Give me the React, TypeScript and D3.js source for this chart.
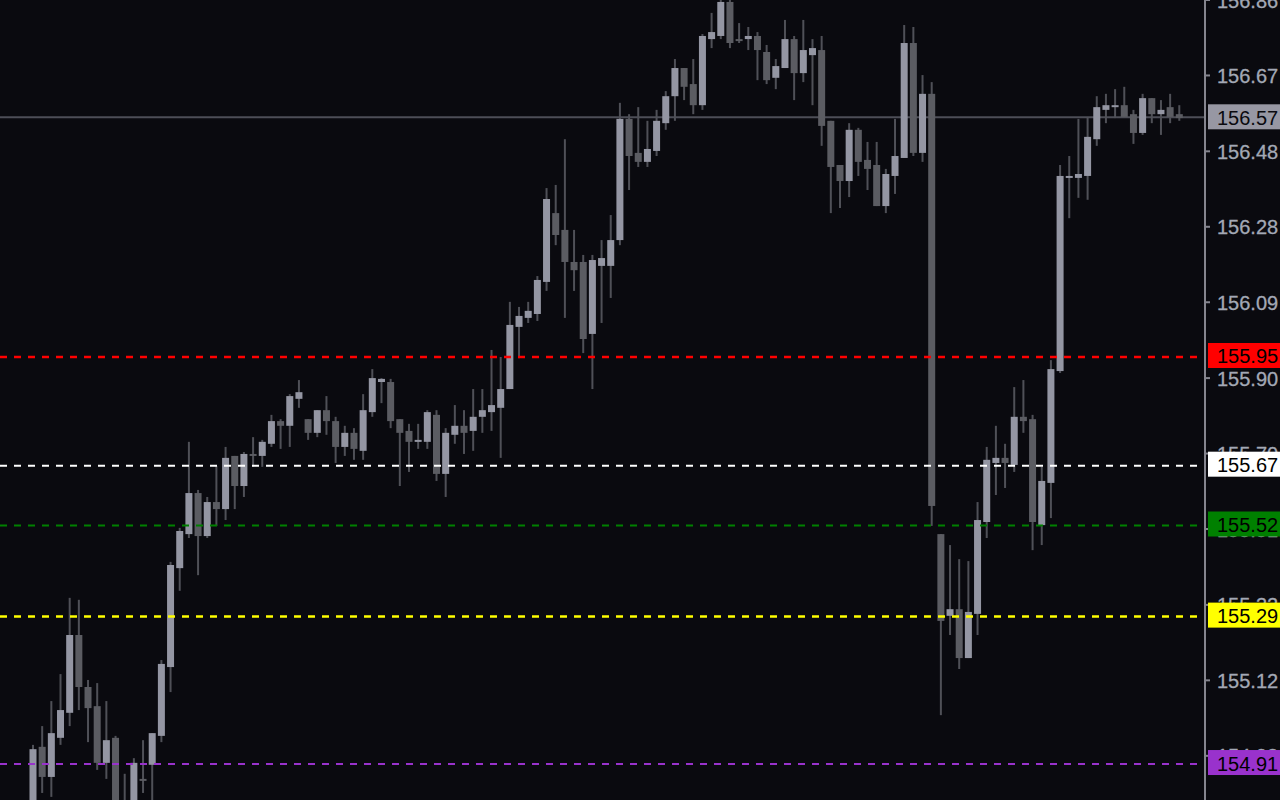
import React from "react";
import * as d3 from "d3";

// ---- Data (USDJPY-like M-bars) ----
const opens = [
  154.780, 154.954, 154.877, 154.977, 155.041, 155.240, 155.107, 155.058, 154.913, 154.977,
  154.787, 154.780, 154.872, 154.908, 154.982, 155.158, 155.411, 155.498, 155.603, 155.493,
  155.580, 155.562, 155.698, 155.621, 155.703, 155.698, 155.729, 155.787, 155.775, 155.844,
  155.792, 155.757, 155.815, 155.787, 155.721, 155.757, 155.711, 155.810, 155.887, 155.887,
  155.792, 155.762, 155.734, 155.734, 155.803, 155.652, 155.752, 155.775, 155.762, 155.798,
  155.810, 155.821, 155.869, 156.028, 156.051, 156.061, 156.143, 156.319, 156.276, 156.194,
  156.194, 156.010, 156.184, 156.184, 156.250, 156.560, 156.473, 156.450, 156.478, 156.549,
  156.618, 156.690, 156.649, 156.595, 156.764, 156.772, 156.859, 156.764, 156.764, 156.772,
  156.731, 156.665, 156.690, 156.764, 156.677, 156.723, 156.736, 156.555, 156.442, 156.401,
  156.532, 156.455, 156.442, 156.337, 156.414, 156.460, 156.754, 156.473, 156.624, 155.498,
  155.289, 155.306, 155.181, 155.294, 155.529, 155.680, 155.693, 155.675, 155.798, 155.792,
  155.521, 155.629, 155.915, 156.409, 156.409, 156.414, 156.508, 156.583, 156.590, 156.595,
  156.572, 156.524, 156.613, 156.572, 156.590, 156.572,
];
const highs = [
  154.959, 155.007, 155.071, 155.140, 155.335, 155.330, 155.125, 155.117, 155.071, 154.982,
  154.885, 154.925, 154.971, 154.989, 155.176, 155.427, 155.514, 155.734, 155.611, 155.593,
  155.672, 155.721, 155.698, 155.708, 155.746, 155.739, 155.803, 155.792, 155.856, 155.892,
  155.792, 155.815, 155.851, 155.798, 155.775, 155.769, 155.856, 155.920, 155.897, 155.895,
  155.792, 155.780, 155.780, 155.815, 155.815, 155.769, 155.828, 155.815, 155.869, 155.869,
  155.969, 155.951, 156.092, 156.079, 156.092, 156.158, 156.383, 156.391, 156.508, 156.276,
  156.212, 156.212, 156.250, 156.314, 156.601, 156.572, 156.590, 156.555, 156.583, 156.631,
  156.713, 156.690, 156.713, 156.777, 156.831, 156.877, 156.877, 156.805, 156.795, 156.782,
  156.749, 156.713, 156.813, 156.772, 156.813, 156.764, 156.772, 156.555, 156.442, 156.549,
  156.537, 156.501, 156.501, 156.432, 156.560, 156.800, 156.795, 156.672, 156.654, 155.498,
  155.470, 155.434, 155.429, 155.580, 155.721, 155.775, 155.729, 155.874, 155.892, 155.803,
  155.670, 155.943, 156.442, 156.465, 156.560, 156.565, 156.618, 156.624, 156.636, 156.642,
  156.583, 156.624, 156.613, 156.608, 156.624, 156.595,
];
const lows = [
  154.741, 154.836, 154.826, 154.959, 155.007, 155.048, 154.966, 154.895, 154.872, 154.741,
  154.729, 154.754, 154.836, 154.792, 154.966, 155.094, 155.353, 155.488, 155.393, 155.488,
  155.519, 155.534, 155.562, 155.593, 155.670, 155.670, 155.721, 155.716, 155.721, 155.821,
  155.739, 155.746, 155.752, 155.680, 155.698, 155.688, 155.688, 155.798, 155.833, 155.769,
  155.621, 155.657, 155.716, 155.716, 155.634, 155.593, 155.729, 155.703, 155.711, 155.757,
  155.762, 155.693, 155.869, 155.948, 156.038, 156.043, 156.120, 156.237, 156.051, 156.120,
  155.961, 155.869, 156.038, 156.102, 156.237, 156.378, 156.437, 156.437, 156.465, 156.532,
  156.555, 156.608, 156.572, 156.583, 156.741, 156.764, 156.741, 156.754, 156.736, 156.659,
  156.649, 156.636, 156.690, 156.608, 156.654, 156.595, 156.491, 156.319, 156.332, 156.360,
  156.414, 156.378, 156.337, 156.319, 156.368, 156.460, 156.465, 156.450, 155.519, 155.035,
  155.240, 155.153, 155.181, 155.240, 155.488, 155.598, 155.616, 155.657, 155.757, 155.457,
  155.470, 155.539, 155.910, 156.306, 156.358, 156.353, 156.491, 156.549, 156.562, 156.565,
  156.496, 156.519, 156.549, 156.519, 156.549, 156.555,
];
const closes = [
  154.948, 154.877, 154.989, 155.048, 155.240, 155.107, 155.053, 154.913, 154.971, 154.780,
  154.762, 154.913, 154.870, 154.989, 155.166, 155.419, 155.506, 155.603, 155.493, 155.580,
  155.562, 155.693, 155.621, 155.703, 155.698, 155.734, 155.787, 155.775, 155.851, 155.861,
  155.757, 155.815, 155.787, 155.721, 155.757, 155.716, 155.815, 155.897, 155.895, 155.787,
  155.757, 155.734, 155.739, 155.810, 155.652, 155.757, 155.775, 155.757, 155.798, 155.815,
  155.828, 155.869, 156.033, 156.056, 156.069, 156.148, 156.355, 156.263, 156.194, 156.173,
  155.997, 156.199, 156.204, 156.250, 156.560, 156.465, 156.450, 156.483, 156.555, 156.618,
  156.690, 156.642, 156.595, 156.772, 156.782, 156.859, 156.754, 156.759, 156.772, 156.736,
  156.659, 156.695, 156.764, 156.677, 156.736, 156.741, 156.542, 156.437, 156.401, 156.532,
  156.450, 156.432, 156.337, 156.419, 156.465, 156.754, 156.473, 156.624, 155.570, 155.276,
  155.306, 155.181, 155.299, 155.534, 155.688, 155.693, 155.680, 155.798, 155.787, 155.529,
  155.634, 155.920, 156.414, 156.414, 156.419, 156.514, 156.590, 156.595, 156.595, 156.565,
  156.524, 156.613, 156.572, 156.583, 156.565, 156.562,
];

// right price axis
const tickValues = [156.864, 156.671, 156.477, 156.284, 156.091, 155.897, 155.704, 155.511, 155.317, 155.124, 154.931];
const tickLabels = ["156.86", "156.67", "156.48", "156.28", "156.09", "155.90", "155.70", "155.51", "155.32", "155.12", "154.93"];

// horizontal levels
const levelValues = [155.951, 155.673, 155.520, 155.287, 154.910];
const levelLabels = ["155.95", "155.67", "155.52", "155.29", "154.91"];
const levelColors = ["#ff0000", "#ffffff", "#008000", "#ffff00", "#9932cc"];
const levelWidths = [2.5, 2, 2, 2.5, 2];

// current bid line
const bidValue = 156.564;
const bidLabel = "156.57";

const W = 1280;
const H = 800;
const AXIS_X = 1205;
const BG = "#0a0a0f";
const BULL = "#9496a3";
const BEAR = "#5b5c62";
const WICK = "#4f5057";
const FONT = "'Liberation Sans', Arial, sans-serif";

export default function App() {
  const n = opens.length;
  const x = d3.scaleLinear().domain([0, n - 1]).range([33, 1179.3]);
  const y = d3.scaleLinear().domain([154.818, 156.864]).range([H, 0]);
  const bodyW = 7;

  const candles = d3.range(n).map((i) => {
    const o = opens[i], c = closes[i], h = highs[i], l = lows[i];
    const cx = x(i);
    const top = y(Math.max(o, c));
    const bot = y(Math.min(o, c));
    const bull = c >= o;
    return (
      <g key={i}>
        <rect x={cx - 1} y={y(h)} width={2} height={Math.max(1, y(l) - y(h))} fill={WICK} />
        <rect x={cx - bodyW / 2} y={top} width={bodyW} height={Math.max(2, bot - top)} fill={bull ? BULL : BEAR} />
      </g>
    );
  });

  return (
    <svg
      width={W}
      height={H}
      style={{ position: "absolute", left: 0, top: 0, display: "block", background: BG }}
    >
      <defs>
        <clipPath id="plot">
          <rect x={0} y={0} width={AXIS_X - 1} height={H} />
        </clipPath>
      </defs>
      <rect x={0} y={0} width={W} height={H} fill={BG} />

      <g clipPath="url(#plot)">
        {/* bid line */}
        <line x1={0} x2={AXIS_X} y1={y(bidValue)} y2={y(bidValue)} stroke="#4d4e57" strokeWidth={2} />
        {candles}
        {levelValues.map((v, k) => (
          <line
            key={k}
            x1={0}
            x2={AXIS_X}
            y1={y(v)}
            y2={y(v)}
            stroke={levelColors[k]}
            strokeWidth={levelWidths[k]}
            strokeDasharray="7 7"
          />
        ))}
      </g>

      {/* axis */}
      <rect x={AXIS_X - 1} y={0} width={2} height={H} fill="#85858e" />
      {tickValues.map((v, k) => (
        <g key={k}>
          <rect x={AXIS_X + 1} y={y(v) - 1} width={4} height={2} fill="#85858e" />
          <text
            x={1217}
            y={y(v) + 7.5}
            fill="#a3a8b5"
            stroke="#a3a8b5"
            strokeWidth={0.3}
            fontFamily={FONT}
            fontSize={20}
          >
            {tickLabels[k]}
          </text>
        </g>
      ))}

      {/* bid label */}
      <rect x={1208} y={y(bidValue) - 13} width={80} height={25} fill="#9797a3" />
      <text x={1217} y={y(bidValue) + 7.5} fill="#0a0a0f" fontFamily={FONT} fontSize={20}>
        {bidLabel}
      </text>

      {/* level labels */}
      {levelValues.map((v, k) => (
        <g key={k}>
          <rect x={1208} y={y(v) - 14} width={80} height={25} fill={levelColors[k]} />
          <text x={1217} y={y(v) + 6.5} fill="#000000" fontFamily={FONT} fontSize={20}>
            {levelLabels[k]}
          </text>
        </g>
      ))}
    </svg>
  );
}
